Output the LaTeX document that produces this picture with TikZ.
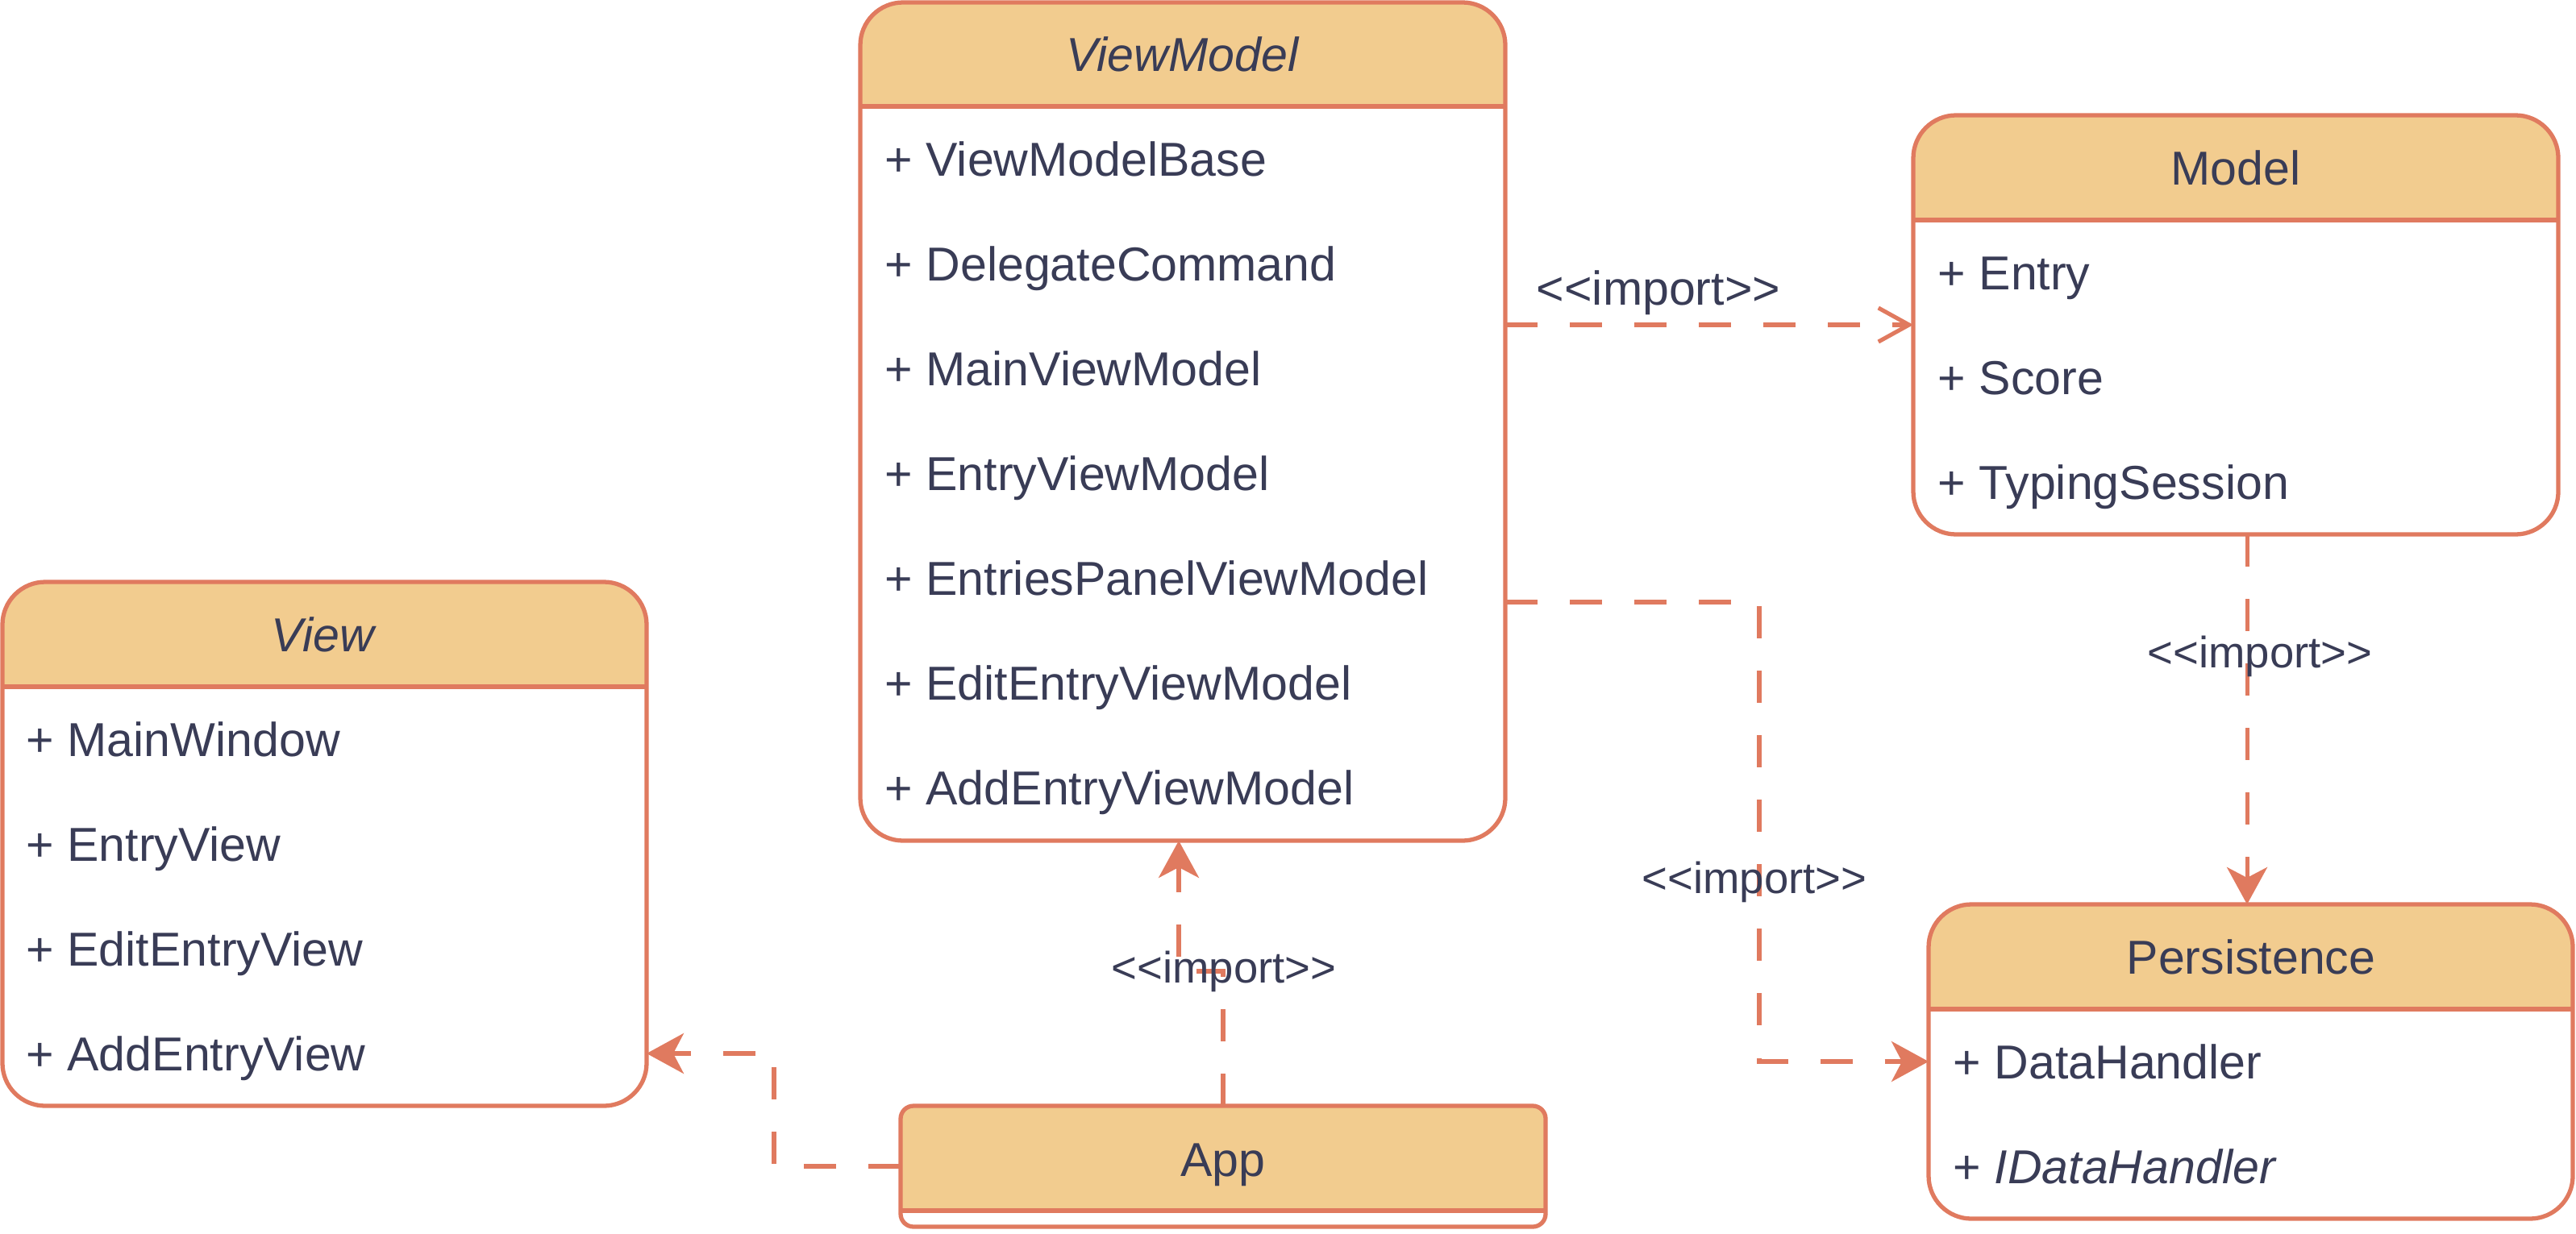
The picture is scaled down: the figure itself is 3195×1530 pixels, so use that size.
\documentclass[tikz,border=0pt]{standalone}
\usepackage{fontspec}
\setmainfont{Liberation Sans}
\usetikzlibrary{arrows.meta,calc,fit}
\definecolor{edgec}{HTML}{E07A5F}
\definecolor{hdrc}{HTML}{F2CC8F}
\definecolor{txtc}{HTML}{393C56}
\newcommand\importlbl{<\kern0pt<import>\kern0pt>}
\tikzset{
  boxfit/.style={inner sep=0pt, outer sep=0pt},
  boxline/.style={draw=edgec, line width=1.5pt},
  hdrfill/.style={fill=hdrc},
  txt/.style={text=txtc, inner sep=0pt, font=\fontsize{16.8pt}{20pt}\selectfont},
  rowtxt/.style={txt, anchor=base west},
  ttltxt/.style={txt, anchor=base},
  lbl/.style={text=txtc, inner sep=0pt, anchor=base, font=\fontsize{15.5pt}{18pt}\selectfont},
  biglbl/.style={lbl, font=\fontsize{16.8pt}{20pt}\selectfont},
  dep/.style={draw=edgec, line width=1.45pt, dash pattern=on 0.4cm off 0.4cm},
  filltip/.style={-{Stealth[length=0.46cm,width=0.5cm,inset=0.13cm]}},
  opentip/.style={-{Straight Barb[length=0.38cm,width=0.42cm]}},
}
% name, left, top, right, bottom, header bottom, radius
\newcommand\umlbox[7]{%
  \node[boxfit, fit={(#2,#3) (#4,#5)}] (#1) {};
  \fill[white, rounded corners=#7] (#1.north west) rectangle (#1.south east);
  \begin{scope}
    \clip[rounded corners=#7] (#1.north west) rectangle (#1.south east);
    \fill[hdrfill] (#1.north west) rectangle (#4,#6);
  \end{scope}
  \draw[boxline] (#2,#6) -- (#4,#6);
  \draw[boxline, rounded corners=#7] (#1.north west) rectangle (#1.south east);
}
\begin{document}
\begin{tikzpicture}[x=0.01cm, y=-0.01cm]
\useasboundingbox (0,0) rectangle (3195,1530);

% ViewModel
\umlbox{vm}{1067}{3}{1867}{1043}{132}{0.53cm}
\node[ttltxt] (vm-t) at (1467,88) {\textit{ViewModel}};
\node[rowtxt] (vm-1) at (1097,218) {+ ViewModelBase};
\node[rowtxt] (vm-2) at (1097,348) {+ DelegateCommand};
\node[rowtxt] (vm-3) at (1097,478) {+ MainViewModel};
\node[rowtxt] (vm-4) at (1097,608) {+ EntryViewModel};
\node[rowtxt] (vm-5) at (1097,738) {+ EntriesPanelViewModel};
\node[rowtxt] (vm-6) at (1097,868) {+ EditEntryViewModel};
\node[rowtxt] (vm-7) at (1097,998) {+ AddEntryViewModel};

% Model
\umlbox{model}{2373}{143}{3173}{663}{273}{0.53cm}
\node[ttltxt] (model-t) at (2773,229) {Model};
\node[rowtxt] (model-1) at (2403,359) {+ Entry};
\node[rowtxt] (model-2) at (2403,489) {+ Score};
\node[rowtxt] (model-3) at (2403,619) {+ TypingSession};

% View
\umlbox{view}{3}{722}{802}{1372}{852}{0.53cm}
\node[ttltxt] (view-t) at (402,808) {\textit{View}};
\node[rowtxt] (view-1) at (32,938) {+ MainWindow};
\node[rowtxt] (view-2) at (32,1068) {+ EntryView};
\node[rowtxt] (view-3) at (32,1198) {+ EditEntryView};
\node[rowtxt] (view-4) at (32,1328) {+ AddEntryView};

% Persistence
\umlbox{pers}{2392}{1122}{3191}{1512}{1252}{0.53cm}
\node[ttltxt] (pers-t) at (2792,1208) {Persistence};
\node[rowtxt] (pers-1) at (2422,1338) {+ DataHandler};
\node[rowtxt] (pers-2) at (2422,1468) {+ \textit{IDataHandler}};

% App
\umlbox{app}{1117}{1372}{1917}{1522}{1502}{0.16cm}
\node[ttltxt] (app-t) at (1517,1459) {App};

% connectors
\draw[dep, opentip] (vm.east |- model.west) -- (model.west);
\coordinate (mp) at ($(model.south)+(14,0)$);
\draw[dep, filltip] (mp) -- (mp |- pers.north);
\draw[dep, filltip] ($(vm.north east)+(0,744)$) -- ++(315,0) |- ($(pers.north west)+(0,195)$);
\draw[dep, filltip] (app.north) -- ++(0,-167) -| ($(vm.south)+(-5,0)$);
\draw[dep, filltip] (app.west) -- ++(-157,0) |- ($(view.north east)+(0,585)$);

% labels
\node[biglbl] (l-vm-model) at (2057,378) {\importlbl};
\node[lbl] (l-model-pers) at (2803,828) {\importlbl};
\node[lbl] (l-vm-pers) at (2176,1108) {\importlbl};
\node[lbl] (l-app-vm) at (1518,1219) {\importlbl};
\end{tikzpicture}
\end{document}
